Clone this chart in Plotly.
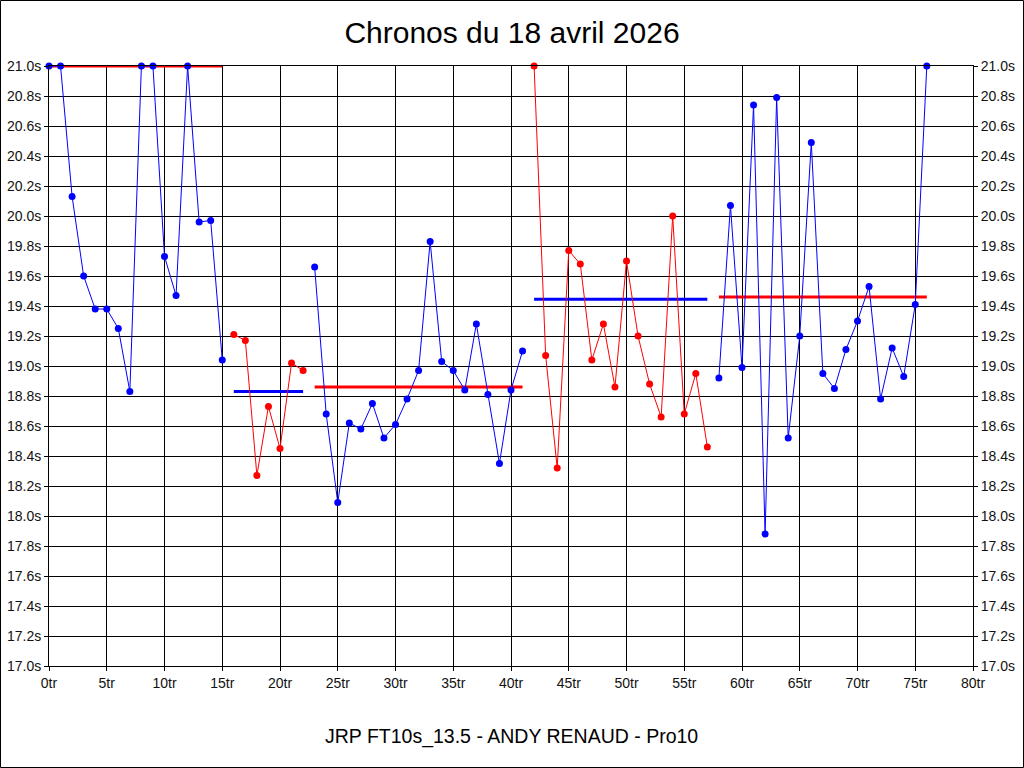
import plotly.graph_objects as go

# ---- data ----
laps_1 = list(range(0, 16))
times_1 = [21.0, 21.0, 20.13, 19.60, 19.38, 19.38, 19.25, 18.83, 21.0, 21.0,
           19.73, 19.47, 21.0, 19.96, 19.97, 19.04]
laps_2 = list(range(16, 23))
times_2 = [19.21, 19.17, 18.27, 18.73, 18.45, 19.02, 18.97]
laps_3 = list(range(23, 42))
times_3 = [19.66, 18.68, 18.09, 18.62, 18.58, 18.75, 18.52, 18.61, 18.78, 18.97,
           19.83, 19.03, 18.97, 18.84, 19.28, 18.81, 18.35, 18.84, 19.10]
laps_4 = list(range(42, 58))
times_4 = [21.0, 19.07, 18.32, 19.77, 19.68, 19.04, 19.28, 18.86, 19.70, 19.20,
           18.88, 18.66, 20.0, 18.68, 18.95, 18.46]
laps_5 = list(range(58, 77))
times_5 = [18.92, 20.07, 18.99, 20.74, 17.88, 20.79, 18.52, 19.20, 20.49, 18.95,
           18.85, 19.11, 19.30, 19.53, 18.78, 19.12, 18.93, 19.41, 21.0]

segments = [laps_1, laps_2, laps_3, laps_4, laps_5]
segment_times = [times_1, times_2, times_3, times_4, times_5]
segment_colors = ["#0000FF", "#FF0000", "#0000FF", "#FF0000", "#0000FF"]

# average of each segment (as drawn)
averages = [21.0, 18.83, 18.86, 19.445, 19.46]
average_colors = ["#FF0000", "#0000FF", "#FF0000", "#0000FF", "#FF0000"]

x_ticks = list(range(0, 81, 5))
title_text = "Chronos du 18 avril 2026"
subtitle_text = "JRP FT10s_13.5 - ANDY RENAUD - Pro10"

FONT = "Liberation Sans, Arial, sans-serif"

fig = go.Figure()

# average lines first (under the series)
for laps, avg, col in zip(segments, averages, average_colors):
    fig.add_trace(go.Scatter(
        x=[laps[0], laps[-1]], y=[avg, avg], mode="lines",
        line=dict(color=col, width=3), hoverinfo="skip", showlegend=False,
        cliponaxis=False))

for laps, t, col in zip(segments, segment_times, segment_colors):
    fig.add_trace(go.Scatter(
        x=laps, y=t, mode="lines+markers",
        line=dict(color=col, width=1),
        marker=dict(color=col, size=7, symbol="circle"),
        showlegend=False, cliponaxis=False))

# invisible trace for the mirrored right axis
fig.add_trace(go.Scatter(x=[0], y=[17], yaxis="y2", mode="markers",
                         marker=dict(opacity=0), showlegend=False,
                         hoverinfo="skip"))

axis_common = dict(
    showgrid=True, gridcolor="black", gridwidth=1,
    showline=True, linecolor="black", linewidth=1,
    ticks="outside", ticklen=4, tickcolor="black", tickwidth=1,
    zeroline=False, automargin=False,
    tickfont=dict(family=FONT, size=14, color="#111111"),
)

fig.update_layout(
    width=1024, height=768,
    margin=dict(l=49, r=51, t=66, b=102, autoexpand=False),
    paper_bgcolor="white", plot_bgcolor="white",
    title=dict(text=title_text, x=0.5, xanchor="center",
               y=1 - 32 / 768, yanchor="middle", yref="container",
               font=dict(family=FONT, size=30, color="black")),
    xaxis=dict(range=[0, 80], tickmode="array", tickvals=x_ticks,
               ticktext=[f"{v}tr" for v in x_ticks], mirror=True,
               **axis_common),
    yaxis=dict(range=[17, 21], dtick=0.2, tick0=17, tickformat=".1f",
               ticksuffix="s", mirror=True, **axis_common),
    yaxis2=dict(range=[17, 21], dtick=0.2, tick0=17, tickformat=".1f",
                ticksuffix="s", overlaying="y", side="right",
                showgrid=False, showline=True, linecolor="black",
                ticks="outside", ticklen=4, tickcolor="black", zeroline=False,
                automargin=False,
                tickfont=dict(family=FONT, size=14, color="#111111")),
    annotations=[dict(text=subtitle_text, xref="paper", yref="paper",
                      x=0.5, y=-(736 - 666) / 600, xanchor="center",
                      yanchor="middle", showarrow=False,
                      font=dict(family=FONT, size=19.5, color="black"))],
    shapes=[dict(type="rect", xref="paper", yref="paper",
                 x0=-(49 - 0.5) / 924, x1=(1023.5 - 49) / 924,
                 y0=-(767.5 - 666) / 600, y1=1 + (66 - 0.5) / 600,
                 line=dict(color="black", width=1))],
    hovermode=False,
)

fig.write_html(
    "out.html",
    config={"displayModeBar": False, "staticPlot": True},
    post_script="document.body.style.margin='0';document.body.style.overflow='hidden';",
)
